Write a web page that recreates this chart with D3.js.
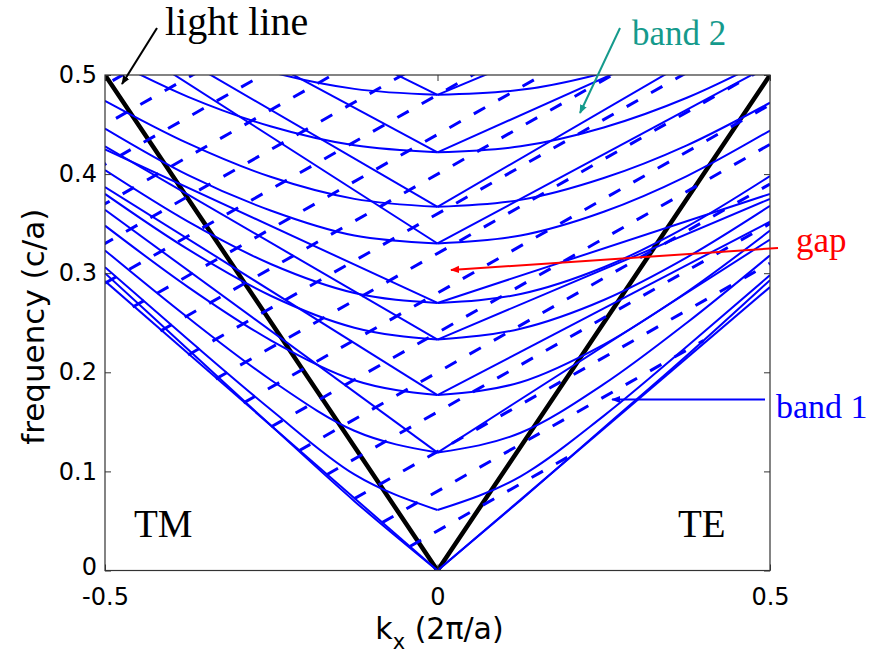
<!DOCTYPE html>
<html><head><meta charset="utf-8">
<script src="https://cdn.jsdelivr.net/npm/d3@7"></script>
<style>
  body { margin: 0; background: #fff; }
  .tick text { font-family: "DejaVu Sans", "Liberation Sans", sans-serif; font-size: 24px; fill: #000; }
  .tick line { stroke: #333; }
</style>
</head><body>
<svg id="chart" width="872" height="664"></svg>
<script>
// |kx| values at which the band frequencies below are tabulated
const kSamples = [0, 0.125, 0.25, 0.375, 0.5];

// TM bands (kx < 0): frequency (c/a) at each |kx| of kSamples
const tmBands = [
  [0.000, 0.070, 0.146, 0.223, 0.300],
  [0.061, 0.097, 0.162, 0.233, 0.306],
  [0.119, 0.141, 0.192, 0.255, 0.323],
  [0.177, 0.192, 0.232, 0.286, 0.348],
  [0.233, 0.245, 0.277, 0.324, 0.380],
  [0.270, 0.280, 0.309, 0.352, 0.404],
  [0.330, 0.338, 0.363, 0.399, 0.446],
  [0.367, 0.375, 0.397, 0.431, 0.474],
  [0.422, 0.429, 0.448, 0.478, 0.518],
  [0.480, 0.486, 0.503, 0.530, 0.565]
];

// TE bands (kx > 0): frequency (c/a) at each kx of kSamples
const teBands = [
  [0.000, 0.071, 0.144, 0.217, 0.293],
  [0.061, 0.095, 0.156, 0.226, 0.298],
  [0.119, 0.139, 0.188, 0.250, 0.318],
  [0.177, 0.190, 0.228, 0.281, 0.343],
  [0.233, 0.244, 0.273, 0.316, 0.368],
  [0.270, 0.279, 0.306, 0.347, 0.398],
  [0.330, 0.338, 0.362, 0.398, 0.444],
  [0.367, 0.374, 0.396, 0.429, 0.472],
  [0.422, 0.428, 0.447, 0.477, 0.517],
  [0.480, 0.485, 0.502, 0.529, 0.564]
];

// straight folded branches: [frequency at kx = 0, frequency at |kx| = 0.5]
const tmFolded = [
  [0.000, 0.292], [0.119, 0.364], [0.177, 0.387], [0.233, 0.428], [0.270, 0.425],
  [0.330, 0.545], [0.367, 0.562], [0.422, 0.602], [0.480, 0.645]
];
const teFolded = [
  [0.000, 0.286], [0.119, 0.334], [0.177, 0.352], [0.233, 0.375], [0.270, 0.380],
  [0.330, 0.510], [0.367, 0.562], [0.422, 0.572], [0.480, 0.620]
];

// dashed bands: frequency at kx = 0 of each line; all share one slope
const dashedIntercepts = [0.04, 0.08, 0.12, 0.16, 0.20, 0.24, 0.28, 0.32, 0.36, 0.40,
                          0.44, 0.48, 0.52, 0.56, 0.60, 0.64, 0.68];
const dashedSlope = 0.38;
const lowestSlope = 0.58;   // slope of the lowest band, where the dashed lines begin

// light line omega = c|k|
const lightLine = [[-0.5, 0.5], [0, 0], [0.5, 0.5]];

// axis ticks
const xTicks = [-0.5, 0, 0.5];
const xTickLabels = ["-0.5", "0", "0.5"];
const yTicks = [0, 0.1, 0.2, 0.3, 0.4, 0.5];
const yTickLabels = ["0", "0.1", "0.2", "0.3", "0.4", "0.5"];

const svg = d3.select("#chart");
const x = d3.scaleLinear().domain([-0.5, 0.5]).range([105, 770]);
const y = d3.scaleLinear().domain([0, 0.5]).range([570.5, 75]);
const [x0, x1] = x.range();
const [y0, y1] = y.range();

svg.append("defs").append("clipPath").attr("id", "plotClip")
  .append("rect").attr("x", x0).attr("y", y1).attr("width", x1 - x0).attr("height", y0 - y1);

const plot = svg.append("g").attr("clip-path", "url(#plotClip)");
const blue = "#0000ff";

const line = d3.line().x(d => x(d[0])).y(d => y(d[1]));
const smooth = d3.line().x(d => x(d[0])).y(d => y(d[1])).curve(d3.curveMonotoneX);

// light line underneath the bands
plot.append("path").attr("d", line(lightLine))
  .attr("fill", "none").attr("stroke", "#000").attr("stroke-width", 4.5);

// dashed bands, starting on the lowest TM branch
dashedIntercepts.forEach(c => {
  const kStart = -c / (dashedSlope + lowestSlope);
  const kEnd = Math.min(0.5, c / (lowestSlope - dashedSlope));
  const pts = [[kStart, c + dashedSlope * kStart], [kEnd, c + dashedSlope * kEnd]];
  plot.append("path").attr("d", line(pts))
    .attr("fill", "none").attr("stroke", blue).attr("stroke-width", 3)
    .attr("stroke-dasharray", "13,15");
});

// curved bands
tmBands.forEach(b => {
  const pts = kSamples.map((k, i) => [-k, b[i]]).reverse();
  plot.append("path").attr("d", smooth(pts))
    .attr("fill", "none").attr("stroke", blue).attr("stroke-width", 2);
});
teBands.forEach(b => {
  const pts = kSamples.map((k, i) => [k, b[i]]);
  plot.append("path").attr("d", smooth(pts))
    .attr("fill", "none").attr("stroke", blue).attr("stroke-width", 2);
});

// straight folded branches
tmFolded.forEach(([f0, f1]) => {
  plot.append("path").attr("d", line([[-0.5, f1], [0, f0]]))
    .attr("fill", "none").attr("stroke", blue).attr("stroke-width", 2);
});
teFolded.forEach(([f0, f1]) => {
  plot.append("path").attr("d", line([[0, f0], [0.5, f1]]))
    .attr("fill", "none").attr("stroke", blue).attr("stroke-width", 2);
});

// axes with inward ticks on all four sides
const tickLen = -6;
svg.append("g").attr("transform", `translate(${x0},0)`)
  .call(d3.axisLeft(y).tickValues(yTicks).tickFormat((d, i) => yTickLabels[i]).tickSize(tickLen).tickPadding(8))
  .call(g => g.select(".domain").remove())
  .call(g => g.selectAll(".tick text").filter(d => d === 0).attr("dy", "0.15em"));
svg.append("g").attr("transform", `translate(${x1},0)`)
  .call(d3.axisRight(y).tickValues(yTicks).tickFormat("").tickSize(tickLen))
  .call(g => g.select(".domain").remove());
svg.append("g").attr("transform", `translate(0,${y0})`)
  .call(d3.axisBottom(x).tickValues(xTicks).tickFormat((d, i) => xTickLabels[i]).tickSize(tickLen).tickPadding(17))
  .call(g => g.select(".domain").remove());
svg.append("g").attr("transform", `translate(0,${y1})`)
  .call(d3.axisTop(x).tickValues(xTicks).tickFormat("").tickSize(tickLen))
  .call(g => g.select(".domain").remove());

svg.append("rect").attr("x", x0).attr("y", y1).attr("width", x1 - x0).attr("height", y0 - y1)
  .attr("fill", "none").attr("stroke", "#333").attr("stroke-width", 1.2);

// axis titles
const sans = "DejaVu Sans, Liberation Sans, sans-serif";
const xt = svg.append("text").attr("x", (x0 + x1) / 2 + 2).attr("y", 639)
  .attr("text-anchor", "middle")
  .style("font-family", sans).style("font-size", "30px");
xt.append("tspan").text("k");
xt.append("tspan").attr("dy", 10).style("font-size", "21px").text("x");
xt.append("tspan").attr("dy", -10).text(" (2\u03c0/a)");

svg.append("text").attr("transform", `translate(44,${(y0 + y1) / 2 + 4}) rotate(-90)`)
  .attr("text-anchor", "middle")
  .style("font-family", sans).style("font-size", "31px")
  .text("frequency (c/a)");

// annotations
const defs = svg.select("defs");
function arrowHead(id, color) {
  defs.append("marker").attr("id", id).attr("viewBox", "0 0 10 10")
    .attr("refX", 9).attr("refY", 5).attr("markerWidth", 9).attr("markerHeight", 9)
    .attr("orient", "auto").attr("markerUnits", "userSpaceOnUse")
    .append("path").attr("d", "M0,1 L10,5 L0,9 Z").attr("fill", color);
}
arrowHead("arrBlack", "#000");
arrowHead("arrTeal", "#159a8c");
arrowHead("arrRed", "#ff0000");
arrowHead("arrBlue", blue);

const serif = "Liberation Serif, Times New Roman, serif";
function label(txt, px, py, color, size) {
  svg.append("text").attr("x", px).attr("y", py).attr("fill", color)
    .style("font-family", serif).style("font-size", size + "px").text(txt);
}
function pointer(xa, ya, xb, yb, color, marker, w) {
  svg.append("line").attr("x1", xa).attr("y1", ya).attr("x2", xb).attr("y2", yb)
    .attr("stroke", color).attr("stroke-width", w).attr("marker-end", `url(#${marker})`);
}

label("light line", 165, 35, "#000", 40);
pointer(157, 28, 122, 84, "#000", "arrBlack", 2);

label("band 2", 632, 45, "#159a8c", 35);
pointer(620, 28, 580, 113, "#159a8c", "arrTeal", 2);

label("gap", 796, 252, "#ff0000", 35);
pointer(778, 248, 451, 270, "#ff0000", "arrRed", 2);

label("band 1", 776, 418, blue, 34);
pointer(765, 399.5, 612, 399.5, blue, "arrBlue", 2);

label("TM", 134, 537, "#000", 39);
label("TE", 678, 537, "#000", 39);
</script>
</body></html>
